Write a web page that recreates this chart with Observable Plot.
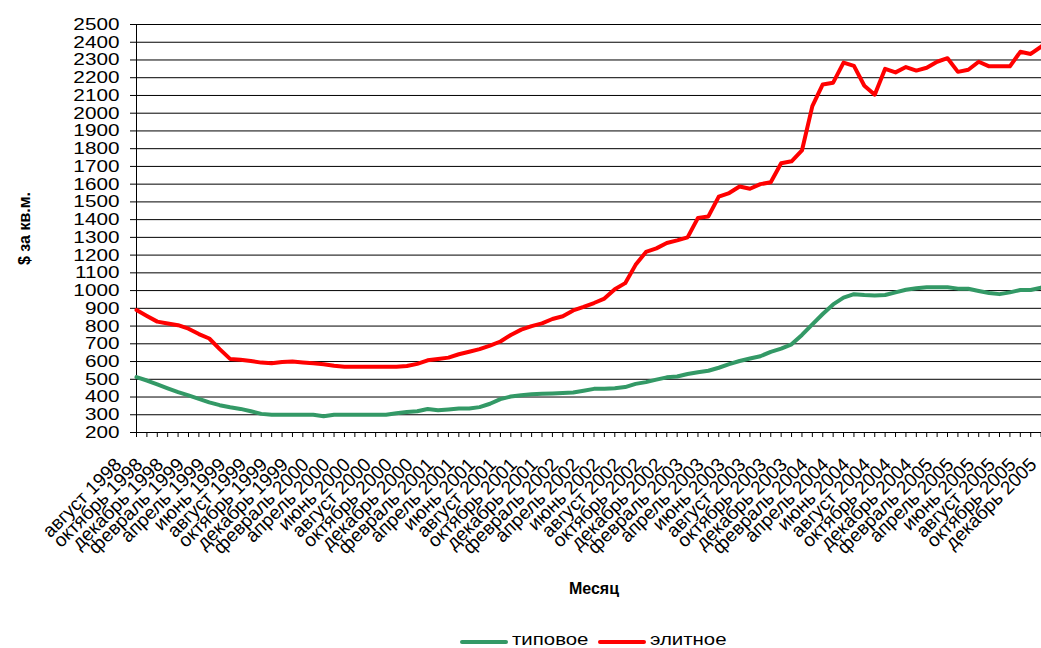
<!DOCTYPE html>
<html><head><meta charset="utf-8">
<script src="https://cdn.jsdelivr.net/npm/d3@7"></script>
<script src="https://cdn.jsdelivr.net/npm/@observablehq/plot@0.6"></script>
<style>
html,body{margin:0;padding:0;background:#fff;overflow:hidden;width:1041px;height:648px;}
#wrap{position:relative;width:1041px;height:648px;overflow:hidden;background:#fff;}
#legend{position:absolute;left:0;top:0;width:1041px;height:648px;pointer-events:none;font-family:"Liberation Sans",Arial,sans-serif;font-size:17px;color:#000;}
.sw{position:absolute;height:4px;border-radius:2px;}
.lab{position:absolute;height:16px;line-height:16px;white-space:nowrap;transform-origin:left center;transform:scaleX(1.2);}
</style></head>
<body><div id="wrap"><div id="chart"></div><div id="legend"></div></div>
<script>
// ---- data ----
const monthNames = ["январь","февраль","март","апрель","май","июнь","июль","август","сентябрь","октябрь","ноябрь","декабрь"];
// August 1998 .. December 2005 (89 months)
const months = d3.range(89).map(k => monthNames[(7 + k) % 12] + " " + (1998 + Math.floor((7 + k) / 12)));
const seriesNames = ["типовое", "элитное"];
const typical = [512,493,471,449,428,409,390,370,354,342,333,320,305,300,300,300,300,300,292,300,
  300,300,300,300,300,308,315,320,332,325,330,335,335,343,362,388,403,410,415,418,
  420,422,425,435,446,447,450,456,474,484,498,511,516,530,540,548,565,585,603,617,
  630,655,673,697,750,810,868,922,960,980,975,973,975,990,1005,1013,1019,1019,1019,1011,
  1010,998,986,980,990,1003,1003,1017,1025];
const elite = [890,857,825,815,805,785,755,730,670,615,610,603,594,590,597,600,595,590,585,576,
  571,570,570,570,570,570,575,587,607,614,622,641,655,670,690,713,750,780,800,815,
  840,855,888,908,930,955,1008,1042,1145,1218,1238,1268,1283,1300,1410,1418,1530,1550,1587,1574,
  1600,1611,1718,1729,1790,2040,2162,2172,2285,2267,2155,2104,2250,2230,2260,2240,2256,2290,2310,2233,
  2245,2290,2264,2264,2264,2346,2334,2375,2420];
const yTicks = d3.range(200, 2501, 100);
const labelIdx = d3.range(0, months.length, 2);
const colors = ["#339966", "#ff0000"];

const rows = [];
months.forEach((m, i) => {
  rows.push({i, month: m, series: seriesNames[0], value: typical[i]});
  rows.push({i, month: m, series: seriesNames[1], value: elite[i]});
});

const font = '"Liberation Sans", Arial, sans-serif';
const chart = Plot.plot({
  width: 1060, height: 625,
  marginLeft: 136, marginRight: 9, marginTop: 24, marginBottom: 193,
  style: {fontFamily: font, background: "#fff", maxWidth: "none", color: "#000"},
  x: {domain: [0, months.length - 1], axis: null},
  y: {domain: [200, 2500], axis: null},
  color: {domain: seriesNames, range: colors},
  marks: [
    Plot.ruleY(yTicks.slice(1), {stroke: "#000", strokeWidth: 1}),
    Plot.ruleX([0], {stroke: "#000"}),
    Plot.ruleY([200], {stroke: "#000"}),
    Plot.axisY(yTicks, {tickSize: 6, tickPadding: 11, fontSize: 17, label: null, tickFormat: d => String(d)}),
    Plot.axisX(d3.range(months.length), {tickSize: 5, tickFormat: () => "", label: null}),
    Plot.text(labelIdx, {x: d => d, frameAnchor: "bottom", text: d => months[d], rotate: -45,
      textAnchor: "end", lineAnchor: "middle", dx: -18, dy: 29, fontSize: 19, ariaLabel: "xlabels"}),
    Plot.line(rows, {x: "i", y: "value", z: "series", stroke: "series", strokeWidth: 4,
      strokeLinejoin: "round", strokeLinecap: "round"}),
    Plot.text(["Месяц"], {frameAnchor: "bottom", textAnchor: "middle", lineAnchor: "middle", dy: 156,
      fontWeight: "bold", fontSize: 16, ariaLabel: "xtitle"}),
    Plot.text(["$ за кв.м."], {frameAnchor: "left", textAnchor: "middle", lineAnchor: "middle", rotate: -90,
      dx: -112, dy: 0, fontWeight: "bold", fontSize: 16, ariaLabel: "ytitle"})
  ]
});
document.getElementById("chart").appendChild(chart);

function stretch(label, s) {
  chart.querySelectorAll(`g[aria-label="${label}"] text`).forEach(t => {
    const tr = t.getAttribute("transform") || "";
    t.setAttribute("transform", tr + ` scale(${s},1)`);
  });
}
stretch("y-axis tick label", 1.22);
stretch("xlabels", 1.05);
stretch("xtitle", 1.2);
stretch("ytitle", 1.15);

// ---- legend ----
const legend = document.getElementById("legend");
const items = [{x: 460, tx: 512}, {x: 598, tx: 650}];
seriesNames.forEach((name, k) => {
  const sw = document.createElement("div");
  sw.className = "sw";
  sw.style.left = items[k].x + "px"; sw.style.width = "48px"; sw.style.top = "640px";
  sw.style.background = colors[k];
  legend.appendChild(sw);
  const lab = document.createElement("div");
  lab.className = "lab";
  lab.style.left = items[k].tx + "px"; lab.style.top = "632px";
  lab.textContent = name;
  legend.appendChild(lab);
});
</script></body></html>
